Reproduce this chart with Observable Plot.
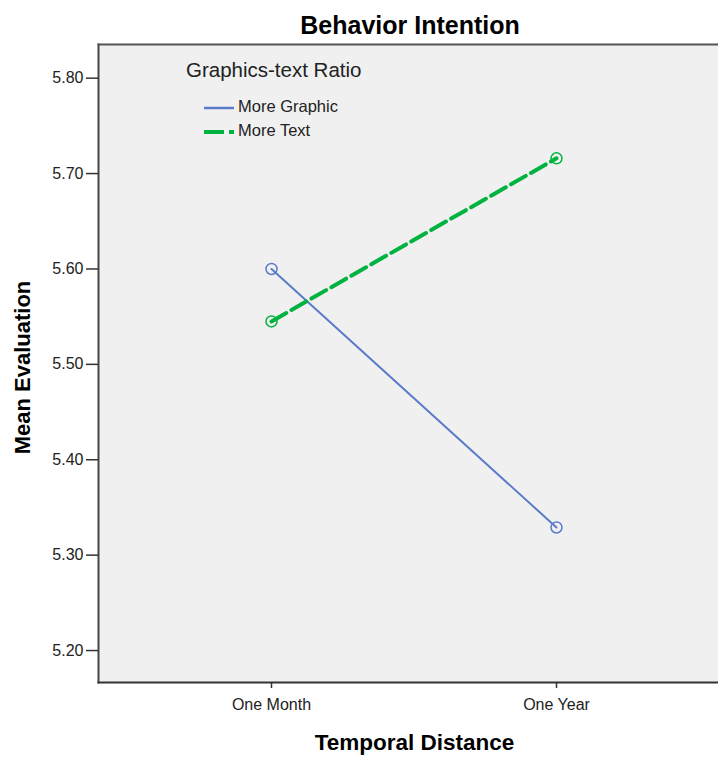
<!DOCTYPE html>
<html>
<head>
<meta charset="utf-8">
<script src="https://cdn.jsdelivr.net/npm/d3@7"></script>
<script src="https://cdn.jsdelivr.net/npm/@observablehq/plot@0.6"></script>
<style>
  html, body { margin: 0; padding: 0; background: #fff; }
  body { width: 718px; height: 758px; position: relative; overflow: hidden; font-family: "Liberation Sans", Arial, sans-serif; }
  #title { height: 43px; box-sizing: border-box; padding-top: 11px; padding-left: 102px; width: 718px; text-align: center; font-size: 25px; line-height: 28px; font-weight: bold; color: #000; }
  #legend { position: absolute; left: 186px; top: 58px; color: #222; }
  #legend .head { font-size: 20.5px; line-height: 24px; white-space: nowrap; }
  #legend .item { position: absolute; left: 18px; font-size: 16.5px; line-height: 20px; white-space: nowrap; }
  #legend .item svg { vertical-align: middle; margin-right: 4px; }
</style>
</head>
<body>
<div id="title">Behavior Intention</div>
<div id="chart"></div>
<div id="legend">
  <div class="head">Graphics-text Ratio</div>
  <div class="item" style="top:38px"><svg width="30" height="8"><line x1="0" y1="4" x2="30" y2="4" stroke="#5a7bcb" stroke-width="2.5"/></svg>More Graphic</div>
  <div class="item" style="top:62px"><svg width="30" height="8"><line x1="0" y1="4" x2="30" y2="4" stroke="#00b341" stroke-width="4" stroke-dasharray="20,5"/></svg>More Text</div>
</div>
<script>
const periods = ["One Month", "One Year"];
const groups = ["More Graphic", "More Text"];
const moreGraphic = [5.600, 5.329];
const moreText = [5.545, 5.716];
const yTicks = [5.20, 5.30, 5.40, 5.50, 5.60, 5.70, 5.80];
const yDomain = [5.1665, 5.8353];
const colors = ["#5a7bcb", "#00b341"];

const graphicRows = periods.map((p, i) => ({period: p, group: groups[0], value: moreGraphic[i]}));
const textRows = periods.map((p, i) => ({period: p, group: groups[1], value: moreText[i]}));

const chart = Plot.plot({
  width: 718,
  height: 715,
  marginLeft: 98,
  marginRight: 0,
  marginTop: 1,
  marginBottom: 76,
  style: {fontFamily: "'Liberation Sans', Arial, sans-serif", background: "transparent", overflow: "visible"},
  x: {type: "point", domain: periods, padding: 0.5877, align: 0.516},
  y: {domain: yDomain},
  color: {domain: groups, range: colors},
  marks: [
    Plot.frame({fill: "#f0f0f0", stroke: null}),
    Plot.line(graphicRows, {x: "period", y: "value", stroke: "group", strokeWidth: 2}),
    Plot.line(textRows, {x: "period", y: "value", stroke: "group", strokeWidth: 4, strokeDasharray: "17,6"}),
    Plot.dot(graphicRows.concat(textRows), {x: "period", y: "value", stroke: "group", r: 5.5, strokeWidth: 1.5, fill: "none"}),
    Plot.frame({anchor: "left", stroke: "#444", strokeWidth: 2}),
    Plot.frame({anchor: "top", stroke: "#555", strokeWidth: 2}),
    Plot.frame({anchor: "bottom", stroke: "#333", strokeWidth: 2}),
    Plot.axisY({ticks: yTicks, tickFormat: d3.format(".2f"), tickSize: 12, tickPadding: 3, fontSize: 16, label: null, fill: "#222", stroke: "#333", strokeWidth: 1.5}),
    Plot.axisX({tickSize: 6, tickPadding: 10, fontSize: 16, label: null, fill: "#222", stroke: "#333", strokeWidth: 1.5}),
    Plot.text(["Mean Evaluation"], {text: d => d, frameAnchor: "left", textAnchor: "middle", dx: -76, dy: 4, rotate: -90, fontSize: 22, fontWeight: "bold", fill: "#000"}),
    Plot.text(["Temporal Distance"], {text: d => d, frameAnchor: "bottom", textAnchor: "middle", dx: 6, dy: 67, fontSize: 22.5, fontWeight: "bold", fill: "#000"})
  ]
});
document.getElementById("chart").appendChild(chart);
</script>
</body>
</html>
